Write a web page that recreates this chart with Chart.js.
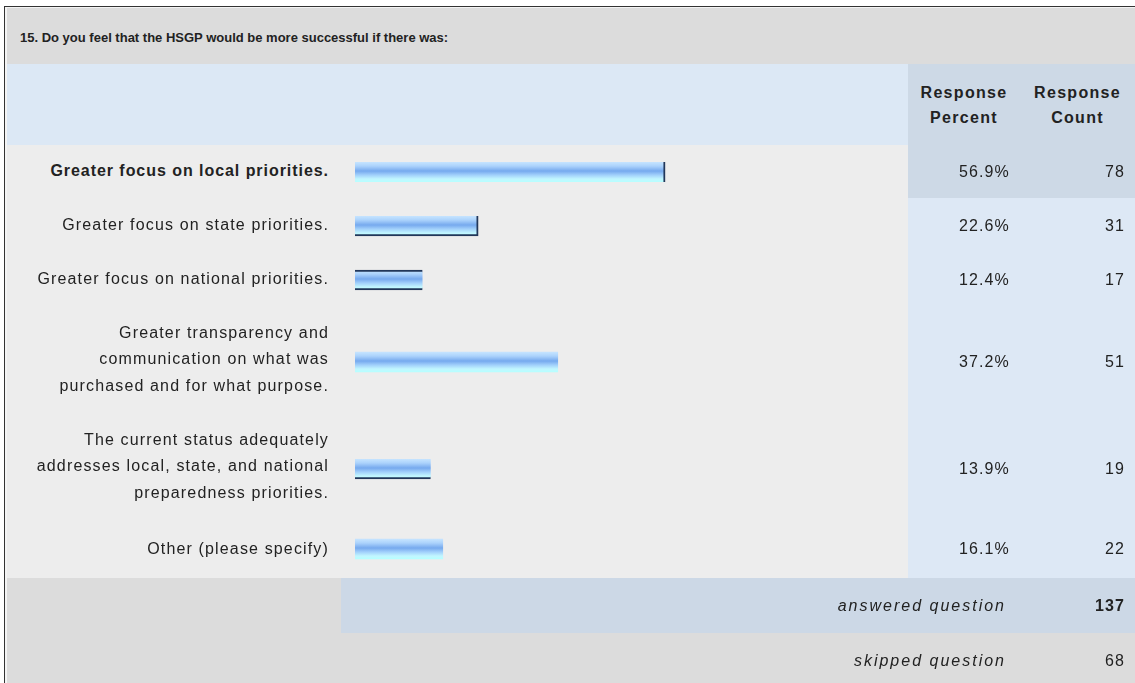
<!DOCTYPE html>
<html>
<head>
<meta charset="utf-8">
<script src="https://cdn.jsdelivr.net/npm/chart.js@4"></script>
<style>
  body { margin: 0; background: #fff; font-family: Arial, "Liberation Sans", sans-serif; color: #222; overflow: hidden; }
  #frame { position: absolute; left: 4px; top: 6px; width: 1140px; height: 700px;
           border-left: 1px solid #333; border-top: 1px solid #333; background: #f4f4f4;
           padding-left: 2px; padding-top: 1px; }
  table { border-collapse: collapse; table-layout: fixed; width: 1128px; }
  td { padding: 0; font-size: 16px; letter-spacing: 1.15px; }
  .title td { background: #dcdcdc; font-weight: bold; font-size: 13px; letter-spacing: 0; padding-left: 13px; padding-top: 2px; }
  .head td { background: #dce8f5; }
  .head td.num { background: #cdd9e6; font-weight: bold; text-align: center; line-height: 25px; letter-spacing: 1.3px; }
  .row td.lab { background: #ededed; text-align: right; padding-right: 12px; line-height: 26.5px; }
  .row td.bar { background: #ededed; padding-left: 14px; }
  .row td.num { background: #dde8f5; text-align: right; padding-right: 10px; }
  .row.first td.num { background: #cdd9e6; }
  .row.first td.lab { font-weight: bold; letter-spacing: 0.95px; }
  .row.tall td.lab { padding-bottom: 5px; }
  .foot td { background: #dcdcdc; text-align: right; padding-right: 10px; }
  .foot td.txt { padding-right: 14px; font-size: 16px; letter-spacing: 2px; }
  .foot.answered td.blue { background: #ccd8e6; }
  .bar canvas { display: block; }
</style>
</head>
<body>
<div id="frame">
  <table id="tbl">
    <colgroup>
      <col style="width:334px"><col style="width:567px"><col style="width:112px"><col style="width:115px">
    </colgroup>
  </table>
</div>
<script>
const questionTitle = "15. Do you feel that the HSGP would be more successful if there was:";
const answerChoices = [
  "Greater focus on local priorities.",
  "Greater focus on state priorities.",
  "Greater focus on national priorities.",
  "Greater transparency and<br>communication on what was<br>purchased and for what purpose.",
  "The current status adequately<br>addresses local, state, and national<br>preparedness priorities.",
  "Other (please specify)"
];
const responsePercent = [56.9, 22.6, 12.4, 37.2, 13.9, 16.1];
const responseCount = [78, 31, 17, 51, 19, 22];
const answeredQuestion = 137;
const skippedQuestion = 68;

// layout only
const rowHeights = [53, 55, 53, 112, 102, 58];
// the dark edges seen on some bars in the original
const barEdges = [
  { right: 2 },
  { right: 2, bottom: 2 },
  { top: 2, bottom: 2 },
  0,
  { bottom: 2 },
  0
];

const tbl = document.getElementById("tbl");
let html = `<tr class="title" style="height:56px"><td colspan="4">${questionTitle}</td></tr>`;
html += `<tr class="head" style="height:81px"><td></td><td></td>
  <td class="num">Response<br>Percent</td><td class="num">Response<br>Count</td></tr>`;
answerChoices.forEach((label, i) => {
  const cls = (i === 0 ? " first" : "") + (label.includes("<br>") ? " tall" : "");
  html += `<tr class="row${cls}" style="height:${rowHeights[i]}px">
    <td class="lab">${label}</td>
    <td class="bar"><canvas id="bar${i}" width="545" height="24"></canvas></td>
    <td class="num">${responsePercent[i].toFixed(1)}%</td>
    <td class="num">${responseCount[i]}</td></tr>`;
});
html += `<tr class="foot answered" style="height:55px"><td></td><td class="blue txt" colspan="2"><i>answered question</i></td>
  <td class="blue"><b>${answeredQuestion}</b></td></tr>`;
html += `<tr class="foot" style="height:55px"><td></td><td class="txt" colspan="2"><i>skipped question</i></td>
  <td>${skippedQuestion}</td></tr>`;
tbl.insertAdjacentHTML("beforeend", html);

function barGradient(ctx) {
  const chart = ctx.chart;
  if (!chart.chartArea) return "#8cbdf5";
  const mid = chart.scales.y.getPixelForValue(0);
  const g = chart.ctx.createLinearGradient(0, mid - 10, 0, mid + 10);
  g.addColorStop(0, "#c6e4ff");
  g.addColorStop(0.2, "#acd3fc");
  g.addColorStop(0.45, "#76a9ee");
  g.addColorStop(0.65, "#a2d0fb");
  g.addColorStop(0.85, "#c2f6ff");
  g.addColorStop(1, "#b6ffff");
  return g;
}

responsePercent.forEach((pct, i) => {
  new Chart(document.getElementById("bar" + i), {
    type: "bar",
    data: {
      labels: [answerChoices[i]],
      datasets: [{
        data: [pct],
        backgroundColor: barGradient,
        borderColor: "#22375a",
        borderWidth: barEdges[i],
        borderSkipped: "start",
        barThickness: 20
      }]
    },
    options: {
      indexAxis: "y",
      responsive: false,
      animation: false,
      layout: { padding: 0 },
      plugins: { legend: { display: false }, tooltip: { enabled: false } },
      scales: {
        x: { display: false, min: 0, max: 100 },
        y: { display: false }
      }
    }
  });
});
</script>
</body>
</html>
